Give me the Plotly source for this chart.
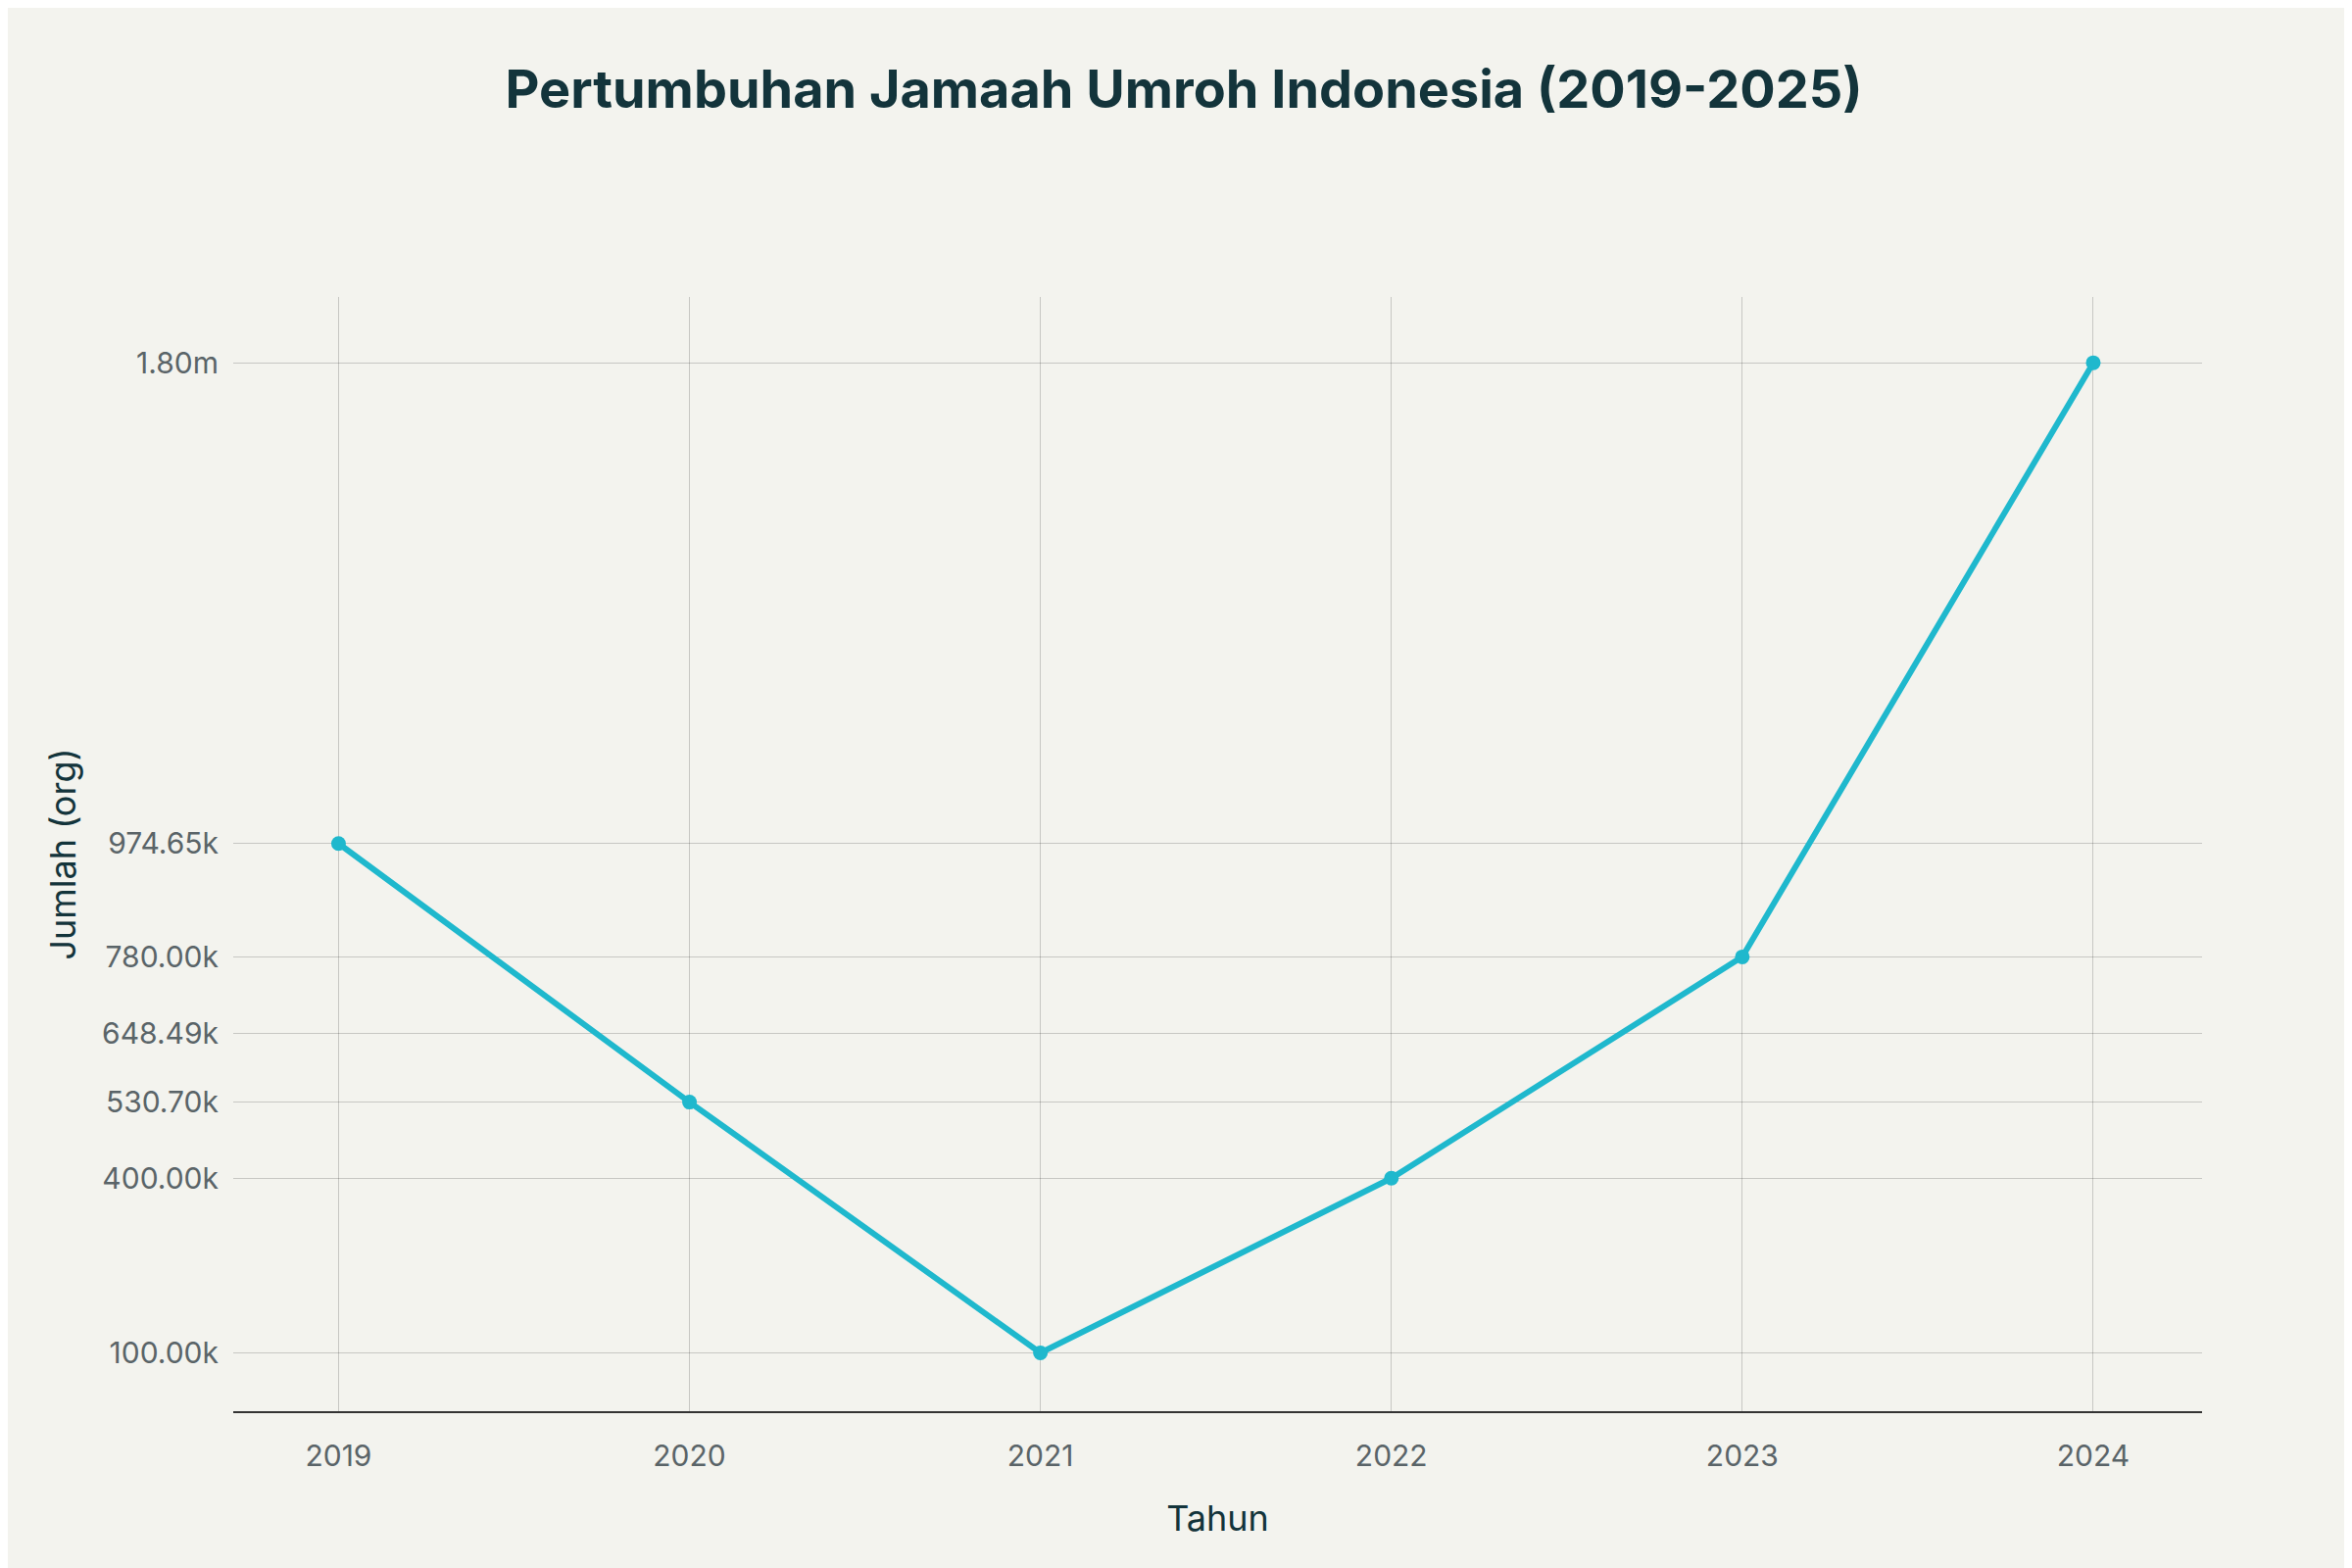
import plotly.graph_objects as go

# --- DATA ---
years = [2019, 2020, 2021, 2022, 2023, 2024]
jamaah = [974650, 530700, 100000, 400000, 780000, 1800000]
tick_vals = [100000, 400000, 530700, 648490, 780000, 974650, 1800000]
tick_text = ["100.00k", "400.00k", "530.70k", "648.49k", "780.00k", "974.65k", "1.80m"]

fig = go.Figure(go.Scatter(
    x=years, y=jamaah, mode="lines+markers",
    line=dict(color="#1FB8CD", width=6),
    marker=dict(size=15, color="#1FB8CD"),
))

fig.update_layout(
    width=2400, height=1600,
    paper_bgcolor="#F3F3EE", plot_bgcolor="#F3F3EE",
    font=dict(family="Inter, sans-serif", size=30, color="#5a6468"),
    title=dict(text="<b>Pertumbuhan Jamaah Umroh Indonesia (2019-2025)</b>",
               x=0.5, y=0.96, xanchor="center",
               font=dict(size=54, color="#13343B")),
    margin=dict(l=230, r=161, t=295, b=168),
    showlegend=False,
)
fig.update_xaxes(
    title=dict(text="Tahun", font=dict(size=36, color="#13343B"), standoff=35),
    range=[2018.7, 2024.31], tickvals=years,
    showgrid=True, gridcolor="rgba(0,0,0,0.18)", gridwidth=1,
    showline=True, linecolor="#333", linewidth=2, zeroline=False,
    ticks="outside", ticklen=18, tickcolor="rgba(0,0,0,0)",
)
fig.update_yaxes(
    title=dict(text="Jumlah (org)", font=dict(size=36, color="#13343B"), standoff=15),
    range=[0, 1913000], tickvals=tick_vals, ticktext=tick_text,
    showgrid=True, gridcolor="rgba(0,0,0,0.18)", gridwidth=1,
    zeroline=False, showline=False,
    ticks="outside", ticklen=8, tickcolor="rgba(0,0,0,0)",
)

fig.write_html("out.html")
